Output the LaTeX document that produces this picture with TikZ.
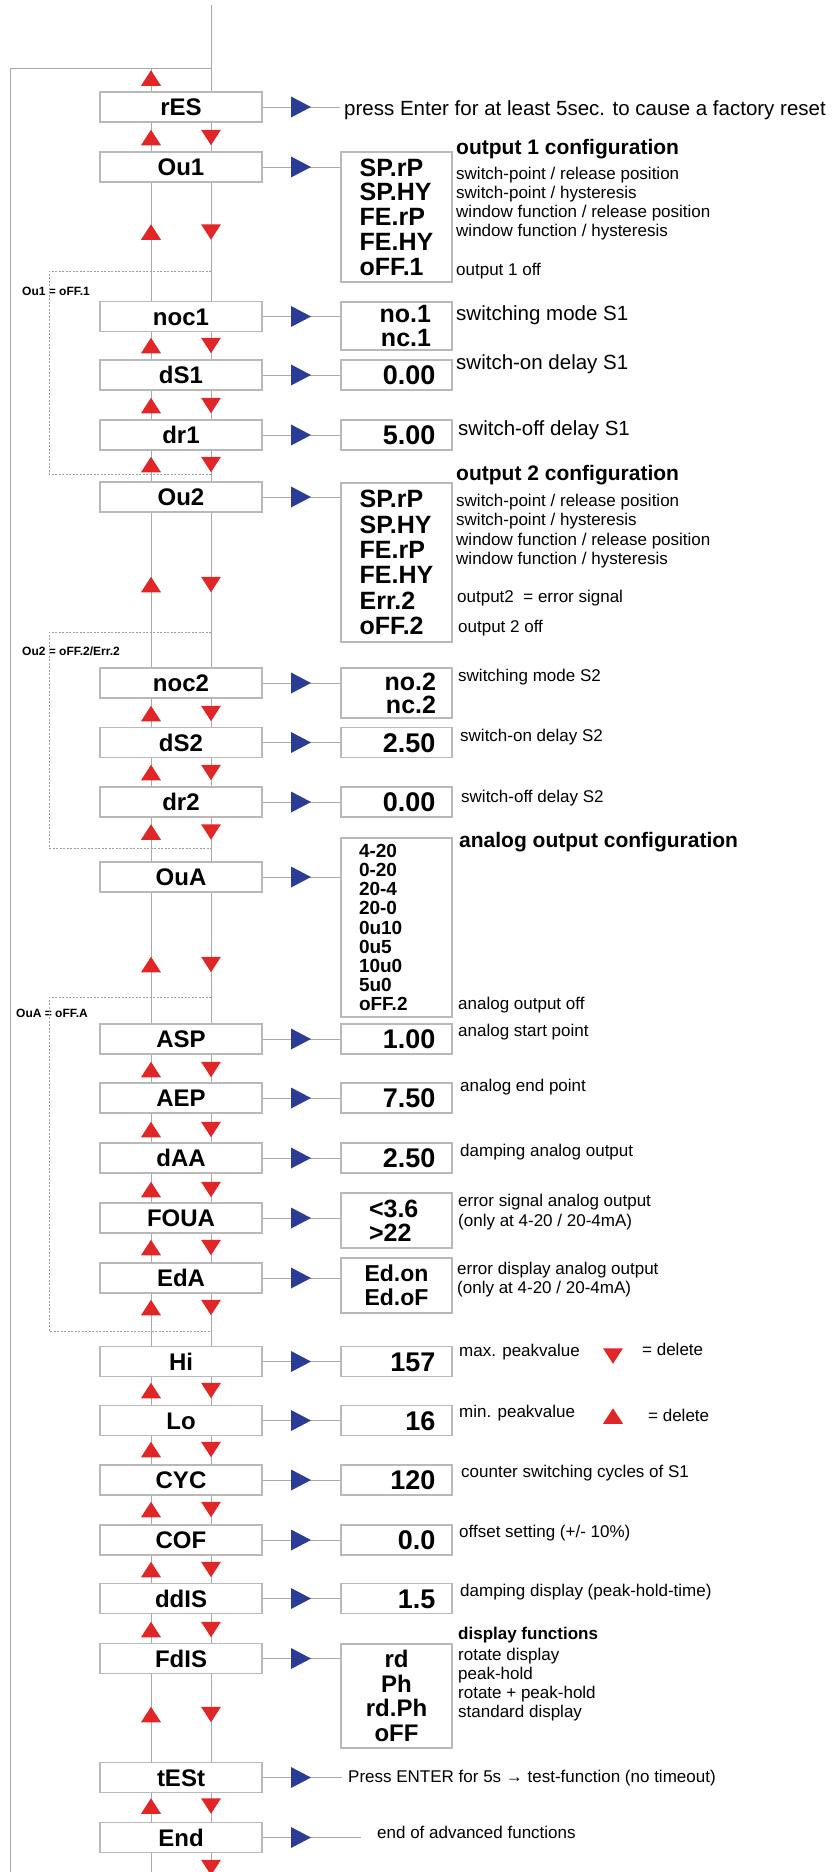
\documentclass[tikz,border=0pt]{standalone}
\usepackage{fontspec}
\setmainfont{Liberation Sans}
\definecolor{menured}{RGB}{224,38,38}
\definecolor{menublue}{RGB}{42,60,150}
\definecolor{linegray}{RGB}{170,170,170}
\definecolor{boxgray}{RGB}{185,185,185}
\newcommand{\fsz}[2]{\fontsize{#1}{#2}\selectfont}

\begin{document}
\begin{tikzpicture}[x=1pt, y=-1pt,
  menu/.style={draw=boxgray, line width=1.5pt, minimum width=162pt, minimum height=30pt, inner sep=0pt, font=\fsz{24}{24}\bfseries, text height=17.2pt, text depth=0pt},
  valbox/.style={draw=boxgray, line width=1.5pt, minimum width=111pt, minimum height=30pt, inner sep=0pt},
  valone/.style={valbox, text width=78pt, align=right, font=\fsz{27}{27}\bfseries, text height=19.4pt, text depth=0pt},
  desc/.style={anchor=west, inner sep=0pt, font=\fsz{17}{17}, text height=12.2pt, text depth=3.6pt},
  descl/.style={desc, font=\fsz{20.5}{20.5}, text height=14.7pt, text depth=4.3pt},
  dtitle/.style={desc, font=\fsz{21}{21}\bfseries, text height=15.1pt, text depth=4.4pt},
  skiplbl/.style={anchor=west, inner sep=0pt, font=\fsz{12}{12}\bfseries},
  conn/.style={draw=linegray, line width=1pt},
  skipline/.style={draw=gray!75, line width=0.8pt, dash pattern=on 2pt off 1.5pt},
  uptri/.pic={\fill[menured] (-10,7.75) -- (10,7.75) -- (0,-7.75) -- cycle;},
  dntri/.pic={\fill[menured] (-10,-7.75) -- (10,-7.75) -- (0,7.75) -- cycle;},
  blutri/.pic={\fill[menublue] (-10,-10.5) -- (-10,10.5) -- (10,0) -- cycle;}]
  \useasboundingbox (0,0) rectangle (833,1872);
  % menu column
  \node[menu] (rES) at (181,107) {rES};
  \node[menu] (Ou1) at (181,167) {Ou1};
  \node[menu] (noc1) at (181,316.5) {noc1};
  \node[menu] (dS1) at (181,375) {dS1};
  \node[menu] (dr1) at (181,435) {dr1};
  \node[menu] (Ou2) at (181,497) {Ou2};
  \node[menu] (noc2) at (181,683) {noc2};
  \node[menu] (dS2) at (181,742.5) {dS2};
  \node[menu] (dr2) at (181,802) {dr2};
  \node[menu] (OuA) at (181,877) {OuA};
  \node[menu] (ASP) at (181,1039) {ASP};
  \node[menu] (AEP) at (181,1098) {AEP};
  \node[menu] (dAA) at (181,1158) {dAA};
  \node[menu] (FOUA) at (181,1218) {FOUA};
  \node[menu] (EdA) at (181,1278) {EdA};
  \node[menu] (Hi) at (181,1361.5) {Hi};
  \node[menu] (Lo) at (181,1420.5) {Lo};
  \node[menu] (CYC) at (181,1480) {CYC};
  \node[menu] (COF) at (181,1540) {COF};
  \node[menu] (ddIS) at (181,1598.5) {ddIS};
  \node[menu] (FdIS) at (181,1658.5) {FdIS};
  \node[menu] (tESt) at (181,1777.5) {tESt};
  \node[menu] (End) at (181,1837.5) {End};
  % value boxes
  \node[valbox, minimum height=130pt, align=left, font=\fsz{25}{24.75}\bfseries] (vOu1) at (396.5,217) {SP.rP\\SP.HY\\FE.rP\\FE.HY\\oFF.1};
  \node[valbox, minimum height=48pt, text width=69pt, align=right, font=\fsz{25}{24}\bfseries] (vnoc1) at (396.5,326) {no.1\\nc.1};
  \node[valone] (vdS1) at (396.5,375) {0.00};
  \node[valone] (vdr1) at (396.5,435) {5.00};
  \node[valbox, minimum height=159pt, align=left, font=\fsz{25}{25.3}\bfseries] (vOu2) at (396.5,562.5) {SP.rP\\SP.HY\\FE.rP\\FE.HY\\Err.2\\oFF.2};
  \node[valbox, minimum height=50pt, text width=79pt, align=right, font=\fsz{25}{23}\bfseries] (vnoc2) at (396.5,693) {no.2\\nc.2};
  \node[valone] (vdS2) at (396.5,742.5) {2.50};
  \node[valone] (vdr2) at (396.5,802) {0.00};
  \node[valbox, minimum height=179pt, text width=75pt, align=left, font=\fsz{19}{19.1}\bfseries] (vOuA) at (396.5,927.5) {4-20\\0-20\\20-4\\20-0\\0u10\\0u5\\10u0\\5u0\\oFF.2};
  \node[valone] (vASP) at (396.5,1039) {1.00};
  \node[valone] (vAEP) at (396.5,1098) {7.50};
  \node[valone] (vdAA) at (396.5,1158) {2.50};
  \node[valbox, minimum height=55pt, text width=55pt, align=left, font=\fsz{25}{24}\bfseries] (vFOUA) at (396.5,1220.5) {<3.6\\>22};
  \node[valbox, minimum height=55pt, align=left, font=\fsz{23}{24}\bfseries] (vEdA) at (396.5,1285.5) {Ed.on\\Ed.oF};
  \node[valone] (vHi) at (396.5,1361.5) {157};
  \node[valone] (vLo) at (396.5,1420.5) {16};
  \node[valone] (vCYC) at (396.5,1480) {120};
  \node[valone] (vCOF) at (396.5,1540) {0.0};
  \node[valone] (vddIS) at (396.5,1598.5) {1.5};
  \node[valbox, minimum height=104pt, align=center, font=\fsz{24}{24.7}\bfseries] (vFdIS) at (396.5,1696) {rd\\Ph\\rd.Ph\\oFF};
  % texts
  \node[descl] (dres) at (344,110.5) {press Enter for at least 5sec. to cause a factory reset};
  \node[dtitle] (hou1) at (456,149.5) {output 1 configuration};
  \node[desc] (dou1a) at (456,175) {switch-point / release position};
  \node[desc] (dou1b) at (456,194) {switch-point / hysteresis};
  \node[desc] (dou1c) at (456,213) {window function / release position};
  \node[desc] (dou1d) at (456,232.5) {window function / hysteresis};
  \node[desc] (dou1e) at (456,271.5) {output 1 off};
  \node[descl] (dnoc1) at (456,315) {switching mode S1};
  \node[descl] (ddS1) at (456,364) {switch-on delay S1};
  \node[descl] (ddr1) at (458,430) {switch-off delay S1};
  \node[dtitle] (hou2) at (456,475) {output 2 configuration};
  \node[desc] (dou2a) at (456,502) {switch-point / release position};
  \node[desc] (dou2b) at (456,521.5) {switch-point / hysteresis};
  \node[desc] (dou2c) at (456,541) {window function / release position};
  \node[desc] (dou2d) at (456,560) {window function / hysteresis};
  \node[desc] (dou2e) at (457,598.5) {output2 \ = error signal};
  \node[desc] (dou2f) at (458,628) {output 2 off};
  \node[desc] (dnoc2) at (458,677) {switching mode S2};
  \node[desc] (ddS2) at (460,737) {switch-on delay S2};
  \node[desc] (ddr2) at (461,798) {switch-off delay S2};
  \node[dtitle] (houa) at (459,842) {analog output configuration};
  \node[desc] (doua) at (458,1005) {analog output off};
  \node[desc] (dASP) at (458,1032) {analog start point};
  \node[desc] (dAEP) at (460,1087) {analog end point};
  \node[desc] (ddAA) at (460,1152) {damping analog output};
  \node[desc] (dfoua) at (458,1202) {error signal analog output};
  \node[desc] (dfoub) at (458,1222) {(only at 4-20 / 20-4mA)};
  \node[desc] (deda) at (457,1270) {error display analog output};
  \node[desc] (dedb) at (457,1289) {(only at 4-20 / 20-4mA)};
  \node[desc] (dHi) at (459,1352) {max. peakvalue};
  \node[desc] (kHi) at (642,1351) {= delete};
  \node[desc] (dLo) at (459,1413.5) {min. peakvalue};
  \node[desc] (kLo) at (648,1417) {= delete};
  \node[desc] (dCYC) at (461,1473) {counter switching cycles of S1};
  \node[desc] (dCOF) at (459,1533) {offset setting (+/- 10\%)};
  \node[desc] (dddIS) at (460,1592) {damping display (peak-hold-time)};
  \node[desc, font=\fsz{17}{17}\bfseries] (hfdis) at (458,1635) {display functions};
  \node[desc] (dfdisa) at (458,1656) {rotate display};
  \node[desc] (dfdisb) at (458,1675) {peak-hold};
  \node[desc] (dfdisc) at (458,1694) {rotate + peak-hold};
  \node[desc] (dfdisd) at (458,1713) {standard display};
  \node[desc] (dtESt) at (348,1778) {Press ENTER for 5s → test-function (no timeout)};
  \node[desc] (dEnd) at (377,1834) {end of advanced functions};
  \node[skiplbl] (sk1) at (22,291) {Ou1 = oFF.1};
  \node[skiplbl] (sk2) at (22,651) {Ou2 = oFF.2/Err.2};
  \node[skiplbl] (sk3) at (16,1013) {OuA = oFF.A};
  % up / down lines
  \coordinate (uline) at (151,0);
  \coordinate (dline) at (211,0);
  \coordinate (bl) at (301,0);
  \coordinate (top) at (211,5);
  \coordinate (ret) at (211,68);
  \coordinate (lft) at (10,68);
  \coordinate (lbot) at (10,1872);
  \draw[conn] (top) -- (rES.north -| dline);
  \draw[conn] (rES.north -| uline) -- (ret -| uline);
  \draw[conn] (ret) -- (lft) -- (lbot);
  \pic at (151,78) {uptri};
  \foreach \a/\b/\y in {rES/Ou1/137.5, Ou1/noc1/232, noc1/dS1/345.5, dS1/dr1/405.5, dr1/Ou2/464.5,
      Ou2/noc2/584.5, noc2/dS2/713.5, dS2/dr2/772.5, dr2/OuA/832, OuA/ASP/964.5, ASP/AEP/1069.5,
      AEP/dAA/1129.5, dAA/FOUA/1189.5, FOUA/EdA/1247.5, EdA/Hi/1307.5, Hi/Lo/1390.5, Lo/CYC/1449.5,
      CYC/COF/1509.5, COF/ddIS/1569.5, ddIS/FdIS/1629.5, FdIS/tESt/1714.5, tESt/End/1806} {
    \draw[conn] (\b.north -| uline) -- (\a.south -| uline);
    \draw[conn] (\a.south -| dline) -- (\b.north -| dline);
    \pic at (151,\y) {uptri};
    \pic at (211,\y) {dntri};
  }
  \draw[conn] (End.south -| uline) -- (lbot -| uline);
  \draw[conn] (End.south -| dline) -- (lbot -| dline);
  \pic at (211,1867.5) {dntri};
  % to the values
  \foreach \m in {Ou1,noc1,dS1,dr1,Ou2,noc2,dS2,dr2,OuA,ASP,AEP,dAA,FOUA,EdA,Hi,Lo,CYC,COF,ddIS,FdIS} {
    \draw[conn] (\m.east) -- (\m.east -| v\m.west);
    \pic at (\m.east -| bl) {blutri};
  }
  \draw[conn, shorten >=4pt] (rES.east) -- (rES.east -| dres.west);
  \pic at (rES.east -| bl) {blutri};
  \draw[conn, shorten >=6pt] (tESt.east) -- (tESt.east -| dtESt.west);
  \pic at (tESt.east -| bl) {blutri};
  \draw[conn, shorten >=16pt] (End.east) -- (End.east -| dEnd.west);
  \pic at (End.east -| bl) {blutri};
  % legend
  \pic at (613,1356) {dntri};
  \pic at (613,1416) {uptri};
  % bypass loops
  \coordinate (s1a) at (211,271);
  \coordinate (s1b) at (211,474);
  \coordinate (s2a) at (211,632);
  \coordinate (s2b) at (211,848);
  \coordinate (s3a) at (211,997);
  \coordinate (s3b) at (211,1331);
  \draw[skipline] (s1a) -- (49,271) -- (49,474) -- (s1b);
  \draw[skipline] (s2a) -- (49,632) -- (49,848) -- (s2b);
  \draw[skipline] (s3a) -- (49,997) -- (49,1331) -- (s3b);
\end{tikzpicture}
\end{document}
